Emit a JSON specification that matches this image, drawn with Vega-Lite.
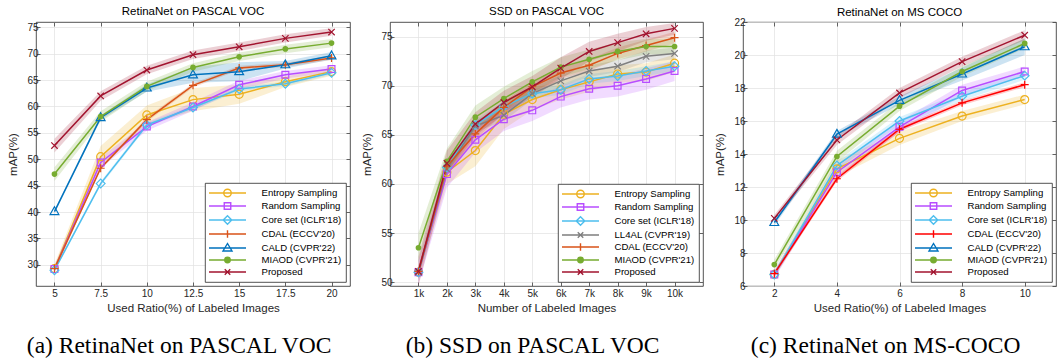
{
  "$schema": "https://vega.github.io/schema/vega-lite/v6.json",
  "padding": {"left": 7, "top": 5, "right": 0, "bottom": 0},
  "spacing": 10,
  "datasets": {
    "p1": [
      {"method": "Entropy Sampling", "x": 5, "y": 29.3, "lo": 28.5, "hi": 30.1},
      {"method": "Entropy Sampling", "x": 7.5, "y": 50.5, "lo": 48.5, "hi": 52.5},
      {"method": "Entropy Sampling", "x": 10, "y": 58.4, "lo": 56.6, "hi": 60.2},
      {"method": "Entropy Sampling", "x": 12.5, "y": 61.3, "lo": 59.1, "hi": 63.5},
      {"method": "Entropy Sampling", "x": 15, "y": 62.3, "lo": 60.5, "hi": 64.1},
      {"method": "Entropy Sampling", "x": 17.5, "y": 64.7, "lo": 63.7, "hi": 65.7},
      {"method": "Entropy Sampling", "x": 20, "y": 66.6, "lo": 65.8, "hi": 67.4},
      {"method": "Random Sampling", "x": 5, "y": 29.2, "lo": 28.6, "hi": 29.8},
      {"method": "Random Sampling", "x": 7.5, "y": 49.4, "lo": 48.4, "hi": 50.4},
      {"method": "Random Sampling", "x": 10, "y": 56.2, "lo": 55.4, "hi": 57.0},
      {"method": "Random Sampling", "x": 12.5, "y": 60.0, "lo": 59.2, "hi": 60.8},
      {"method": "Random Sampling", "x": 15, "y": 64.1, "lo": 63.3, "hi": 64.9},
      {"method": "Random Sampling", "x": 17.5, "y": 66.0, "lo": 65.3, "hi": 66.7},
      {"method": "Random Sampling", "x": 20, "y": 67.1, "lo": 66.4, "hi": 67.8},
      {"method": "Core set (ICLR'18)", "x": 5, "y": 29.0, "lo": 28.7, "hi": 29.3},
      {"method": "Core set (ICLR'18)", "x": 7.5, "y": 45.4, "lo": 45.0, "hi": 45.8},
      {"method": "Core set (ICLR'18)", "x": 10, "y": 56.5, "lo": 56.1, "hi": 56.9},
      {"method": "Core set (ICLR'18)", "x": 12.5, "y": 59.8, "lo": 59.4, "hi": 60.2},
      {"method": "Core set (ICLR'18)", "x": 15, "y": 63.3, "lo": 62.9, "hi": 63.7},
      {"method": "Core set (ICLR'18)", "x": 17.5, "y": 64.3, "lo": 63.9, "hi": 64.7},
      {"method": "Core set (ICLR'18)", "x": 20, "y": 66.4, "lo": 66.0, "hi": 66.8},
      {"method": "CDAL (ECCV'20)", "x": 5, "y": 29.3, "lo": 29.0, "hi": 29.6},
      {"method": "CDAL (ECCV'20)", "x": 7.5, "y": 48.3, "lo": 48.0, "hi": 48.6},
      {"method": "CDAL (ECCV'20)", "x": 10, "y": 57.5, "lo": 57.1, "hi": 57.9},
      {"method": "CDAL (ECCV'20)", "x": 12.5, "y": 64.0, "lo": 63.6, "hi": 64.4},
      {"method": "CDAL (ECCV'20)", "x": 15, "y": 67.3, "lo": 66.9, "hi": 67.7},
      {"method": "CDAL (ECCV'20)", "x": 17.5, "y": 67.9, "lo": 67.5, "hi": 68.3},
      {"method": "CDAL (ECCV'20)", "x": 20, "y": 69.2, "lo": 68.8, "hi": 69.6},
      {"method": "CALD (CVPR'22)", "x": 5, "y": 40.1, "lo": 39.8, "hi": 40.4},
      {"method": "CALD (CVPR'22)", "x": 7.5, "y": 57.9, "lo": 57.5, "hi": 58.3},
      {"method": "CALD (CVPR'22)", "x": 10, "y": 63.5, "lo": 62.8, "hi": 64.2},
      {"method": "CALD (CVPR'22)", "x": 12.5, "y": 66.0, "lo": 64.5, "hi": 67.5},
      {"method": "CALD (CVPR'22)", "x": 15, "y": 66.6, "lo": 64.8, "hi": 68.4},
      {"method": "CALD (CVPR'22)", "x": 17.5, "y": 67.9, "lo": 67.2, "hi": 68.6},
      {"method": "CALD (CVPR'22)", "x": 20, "y": 69.6, "lo": 68.9, "hi": 70.3},
      {"method": "MIAOD (CVPR'21)", "x": 5, "y": 47.2, "lo": 45.9, "hi": 48.5},
      {"method": "MIAOD (CVPR'21)", "x": 7.5, "y": 58.1, "lo": 57.1, "hi": 59.1},
      {"method": "MIAOD (CVPR'21)", "x": 10, "y": 63.8, "lo": 62.9, "hi": 64.7},
      {"method": "MIAOD (CVPR'21)", "x": 12.5, "y": 67.4, "lo": 66.6, "hi": 68.2},
      {"method": "MIAOD (CVPR'21)", "x": 15, "y": 69.4, "lo": 68.6, "hi": 70.2},
      {"method": "MIAOD (CVPR'21)", "x": 17.5, "y": 70.9, "lo": 70.1, "hi": 71.7},
      {"method": "MIAOD (CVPR'21)", "x": 20, "y": 72.0, "lo": 71.2, "hi": 72.8},
      {"method": "Proposed", "x": 5, "y": 52.6, "lo": 51.3, "hi": 53.9},
      {"method": "Proposed", "x": 7.5, "y": 62.0, "lo": 61.1, "hi": 62.9},
      {"method": "Proposed", "x": 10, "y": 66.9, "lo": 66.1, "hi": 67.7},
      {"method": "Proposed", "x": 12.5, "y": 69.8, "lo": 69.0, "hi": 70.6},
      {"method": "Proposed", "x": 15, "y": 71.3, "lo": 70.5, "hi": 72.1},
      {"method": "Proposed", "x": 17.5, "y": 72.9, "lo": 72.1, "hi": 73.7},
      {"method": "Proposed", "x": 20, "y": 74.1, "lo": 73.4, "hi": 74.8}
    ],
    "p2": [
      {"method": "Entropy Sampling", "x": 1, "y": 51.0, "lo": 50.3, "hi": 51.7},
      {"method": "Entropy Sampling", "x": 2, "y": 61.2, "lo": 60.0, "hi": 62.4},
      {"method": "Entropy Sampling", "x": 3, "y": 63.4, "lo": 61.8, "hi": 65.0},
      {"method": "Entropy Sampling", "x": 4, "y": 67.1, "lo": 65.6, "hi": 68.6},
      {"method": "Entropy Sampling", "x": 5, "y": 68.6, "lo": 67.5, "hi": 69.7},
      {"method": "Entropy Sampling", "x": 6, "y": 69.6, "lo": 68.6, "hi": 70.6},
      {"method": "Entropy Sampling", "x": 7, "y": 70.4, "lo": 69.4, "hi": 71.4},
      {"method": "Entropy Sampling", "x": 8, "y": 71.2, "lo": 70.3, "hi": 72.1},
      {"method": "Entropy Sampling", "x": 9, "y": 71.4, "lo": 70.5, "hi": 72.3},
      {"method": "Entropy Sampling", "x": 10, "y": 72.3, "lo": 71.4, "hi": 73.2},
      {"method": "Random Sampling", "x": 1, "y": 51.0, "lo": 49.8, "hi": 52.2},
      {"method": "Random Sampling", "x": 2, "y": 61.0, "lo": 59.6, "hi": 62.4},
      {"method": "Random Sampling", "x": 3, "y": 64.5, "lo": 63.2, "hi": 65.8},
      {"method": "Random Sampling", "x": 4, "y": 66.6, "lo": 65.4, "hi": 67.8},
      {"method": "Random Sampling", "x": 5, "y": 67.5, "lo": 66.4, "hi": 68.6},
      {"method": "Random Sampling", "x": 6, "y": 68.9, "lo": 67.8, "hi": 70.0},
      {"method": "Random Sampling", "x": 7, "y": 69.7, "lo": 68.6, "hi": 70.8},
      {"method": "Random Sampling", "x": 8, "y": 70.0, "lo": 68.9, "hi": 71.1},
      {"method": "Random Sampling", "x": 9, "y": 70.7, "lo": 69.6, "hi": 71.8},
      {"method": "Random Sampling", "x": 10, "y": 71.5, "lo": 70.5, "hi": 72.5},
      {"method": "Core set (ICLR'18)", "x": 1, "y": 51.0, "lo": 50.7, "hi": 51.3},
      {"method": "Core set (ICLR'18)", "x": 2, "y": 61.7, "lo": 61.2, "hi": 62.2},
      {"method": "Core set (ICLR'18)", "x": 3, "y": 66.0, "lo": 65.5, "hi": 66.5},
      {"method": "Core set (ICLR'18)", "x": 4, "y": 67.9, "lo": 67.4, "hi": 68.4},
      {"method": "Core set (ICLR'18)", "x": 5, "y": 69.2, "lo": 68.7, "hi": 69.7},
      {"method": "Core set (ICLR'18)", "x": 6, "y": 69.6, "lo": 69.1, "hi": 70.1},
      {"method": "Core set (ICLR'18)", "x": 7, "y": 70.7, "lo": 70.2, "hi": 71.2},
      {"method": "Core set (ICLR'18)", "x": 8, "y": 71.0, "lo": 70.5, "hi": 71.5},
      {"method": "Core set (ICLR'18)", "x": 9, "y": 71.5, "lo": 71.0, "hi": 72.0},
      {"method": "Core set (ICLR'18)", "x": 10, "y": 72.0, "lo": 71.5, "hi": 72.5},
      {"method": "LL4AL (CVPR'19)", "x": 1, "y": 51.0, "lo": 50.6, "hi": 51.4},
      {"method": "LL4AL (CVPR'19)", "x": 2, "y": 61.5, "lo": 61.0, "hi": 62.0},
      {"method": "LL4AL (CVPR'19)", "x": 3, "y": 65.9, "lo": 65.3, "hi": 66.5},
      {"method": "LL4AL (CVPR'19)", "x": 4, "y": 67.0, "lo": 66.4, "hi": 67.6},
      {"method": "LL4AL (CVPR'19)", "x": 5, "y": 69.2, "lo": 68.6, "hi": 69.8},
      {"method": "LL4AL (CVPR'19)", "x": 6, "y": 70.5, "lo": 69.9, "hi": 71.1},
      {"method": "LL4AL (CVPR'19)", "x": 7, "y": 71.5, "lo": 70.9, "hi": 72.1},
      {"method": "LL4AL (CVPR'19)", "x": 8, "y": 72.0, "lo": 71.4, "hi": 72.6},
      {"method": "LL4AL (CVPR'19)", "x": 9, "y": 73.0, "lo": 72.4, "hi": 73.6},
      {"method": "LL4AL (CVPR'19)", "x": 10, "y": 73.3, "lo": 72.7, "hi": 73.9},
      {"method": "CDAL (ECCV'20)", "x": 1, "y": 51.1, "lo": 50.6, "hi": 51.6},
      {"method": "CDAL (ECCV'20)", "x": 2, "y": 61.8, "lo": 61.2, "hi": 62.4},
      {"method": "CDAL (ECCV'20)", "x": 3, "y": 65.1, "lo": 64.5, "hi": 65.7},
      {"method": "CDAL (ECCV'20)", "x": 4, "y": 67.8, "lo": 67.2, "hi": 68.4},
      {"method": "CDAL (ECCV'20)", "x": 5, "y": 69.9, "lo": 69.3, "hi": 70.5},
      {"method": "CDAL (ECCV'20)", "x": 6, "y": 71.3, "lo": 70.7, "hi": 71.9},
      {"method": "CDAL (ECCV'20)", "x": 7, "y": 72.1, "lo": 71.5, "hi": 72.7},
      {"method": "CDAL (ECCV'20)", "x": 8, "y": 73.3, "lo": 72.7, "hi": 73.9},
      {"method": "CDAL (ECCV'20)", "x": 9, "y": 74.1, "lo": 73.5, "hi": 74.7},
      {"method": "CDAL (ECCV'20)", "x": 10, "y": 74.9, "lo": 74.3, "hi": 75.5},
      {"method": "MIAOD (CVPR'21)", "x": 1, "y": 53.5, "lo": 52.0, "hi": 55.0},
      {"method": "MIAOD (CVPR'21)", "x": 2, "y": 62.3, "lo": 61.0, "hi": 63.6},
      {"method": "MIAOD (CVPR'21)", "x": 3, "y": 66.8, "lo": 65.6, "hi": 68.0},
      {"method": "MIAOD (CVPR'21)", "x": 4, "y": 68.7, "lo": 67.5, "hi": 69.9},
      {"method": "MIAOD (CVPR'21)", "x": 5, "y": 70.4, "lo": 69.3, "hi": 71.5},
      {"method": "MIAOD (CVPR'21)", "x": 6, "y": 71.9, "lo": 70.9, "hi": 72.9},
      {"method": "MIAOD (CVPR'21)", "x": 7, "y": 72.7, "lo": 71.7, "hi": 73.7},
      {"method": "MIAOD (CVPR'21)", "x": 8, "y": 73.5, "lo": 72.6, "hi": 74.4},
      {"method": "MIAOD (CVPR'21)", "x": 9, "y": 74.0, "lo": 73.2, "hi": 74.8},
      {"method": "MIAOD (CVPR'21)", "x": 10, "y": 74.0, "lo": 73.2, "hi": 74.8},
      {"method": "Proposed", "x": 1, "y": 51.1, "lo": 49.6, "hi": 52.6},
      {"method": "Proposed", "x": 2, "y": 62.1, "lo": 60.8, "hi": 63.4},
      {"method": "Proposed", "x": 3, "y": 66.1, "lo": 64.9, "hi": 67.3},
      {"method": "Proposed", "x": 4, "y": 68.3, "lo": 67.1, "hi": 69.5},
      {"method": "Proposed", "x": 5, "y": 69.9, "lo": 68.8, "hi": 71.0},
      {"method": "Proposed", "x": 6, "y": 71.8, "lo": 70.7, "hi": 72.9},
      {"method": "Proposed", "x": 7, "y": 73.5, "lo": 72.5, "hi": 74.5},
      {"method": "Proposed", "x": 8, "y": 74.4, "lo": 73.5, "hi": 75.3},
      {"method": "Proposed", "x": 9, "y": 75.3, "lo": 74.6, "hi": 76.0},
      {"method": "Proposed", "x": 10, "y": 75.85, "lo": 75.2, "hi": 76.4}
    ],
    "p3": [
      {"method": "Entropy Sampling", "x": 2, "y": 6.7, "lo": 6.5, "hi": 6.9},
      {"method": "Entropy Sampling", "x": 4, "y": 13.1, "lo": 12.6, "hi": 13.6},
      {"method": "Entropy Sampling", "x": 6, "y": 14.95, "lo": 14.55, "hi": 15.35},
      {"method": "Entropy Sampling", "x": 8, "y": 16.3, "lo": 16.0, "hi": 16.6},
      {"method": "Entropy Sampling", "x": 10, "y": 17.3, "lo": 17.0, "hi": 17.6},
      {"method": "Random Sampling", "x": 2, "y": 6.7, "lo": 6.45, "hi": 6.95},
      {"method": "Random Sampling", "x": 4, "y": 12.9, "lo": 12.6, "hi": 13.2},
      {"method": "Random Sampling", "x": 6, "y": 15.65, "lo": 15.3, "hi": 16.0},
      {"method": "Random Sampling", "x": 8, "y": 17.85, "lo": 17.5, "hi": 18.2},
      {"method": "Random Sampling", "x": 10, "y": 19.0, "lo": 18.7, "hi": 19.3},
      {"method": "Core set (ICLR'18)", "x": 2, "y": 6.7, "lo": 6.5, "hi": 6.9},
      {"method": "Core set (ICLR'18)", "x": 4, "y": 13.3, "lo": 13.05, "hi": 13.55},
      {"method": "Core set (ICLR'18)", "x": 6, "y": 16.0, "lo": 15.75, "hi": 16.25},
      {"method": "Core set (ICLR'18)", "x": 8, "y": 17.5, "lo": 17.25, "hi": 17.75},
      {"method": "Core set (ICLR'18)", "x": 10, "y": 18.75, "lo": 18.5, "hi": 19.0},
      {"method": "CDAL (ECCV'20)", "x": 2, "y": 6.75, "lo": 6.6, "hi": 6.9},
      {"method": "CDAL (ECCV'20)", "x": 4, "y": 12.5, "lo": 12.35, "hi": 12.65},
      {"method": "CDAL (ECCV'20)", "x": 6, "y": 15.5, "lo": 15.35, "hi": 15.65},
      {"method": "CDAL (ECCV'20)", "x": 8, "y": 17.1, "lo": 16.95, "hi": 17.25},
      {"method": "CDAL (ECCV'20)", "x": 10, "y": 18.2, "lo": 18.05, "hi": 18.35},
      {"method": "CALD (CVPR'22)", "x": 2, "y": 9.85, "lo": 9.65, "hi": 10.05},
      {"method": "CALD (CVPR'22)", "x": 4, "y": 15.2, "lo": 15.0, "hi": 15.4},
      {"method": "CALD (CVPR'22)", "x": 6, "y": 17.25, "lo": 17.0, "hi": 17.5},
      {"method": "CALD (CVPR'22)", "x": 8, "y": 18.85, "lo": 18.45, "hi": 19.25},
      {"method": "CALD (CVPR'22)", "x": 10, "y": 20.5, "lo": 20.0, "hi": 21.0},
      {"method": "MIAOD (CVPR'21)", "x": 2, "y": 7.3, "lo": 7.0, "hi": 7.6},
      {"method": "MIAOD (CVPR'21)", "x": 4, "y": 13.85, "lo": 13.5, "hi": 14.2},
      {"method": "MIAOD (CVPR'21)", "x": 6, "y": 16.9, "lo": 16.6, "hi": 17.2},
      {"method": "MIAOD (CVPR'21)", "x": 8, "y": 19.0, "lo": 18.7, "hi": 19.3},
      {"method": "MIAOD (CVPR'21)", "x": 10, "y": 20.7, "lo": 20.4, "hi": 21.0},
      {"method": "Proposed", "x": 2, "y": 10.1, "lo": 9.9, "hi": 10.3},
      {"method": "Proposed", "x": 4, "y": 14.85, "lo": 14.55, "hi": 15.15},
      {"method": "Proposed", "x": 6, "y": 17.7, "lo": 17.4, "hi": 18.0},
      {"method": "Proposed", "x": 8, "y": 19.6, "lo": 19.3, "hi": 19.9},
      {"method": "Proposed", "x": 10, "y": 21.2, "lo": 20.9, "hi": 21.5}
    ]
  },
  "hconcat": [
    {
      "title": {"text": "(a) RetinaNet on PASCAL VOC", "orient": "bottom", "anchor": "middle", "font": "Liberation Serif", "fontSize": 23.5, "fontWeight": "normal", "color": "#000000", "offset": 20},
      "resolve": {"scale": {"color": "independent", "shape": "independent", "fill": "independent", "stroke": "independent"}, "legend": {"color": "independent", "shape": "independent"}},
      "vconcat": [
        {
          "width": 314, "height": 264,
          "title": {"text": "RetinaNet on PASCAL VOC", "frame": "group"},
          "data": {"name": "p1"},
          "resolve": {"axis": {"x": "independent", "y": "independent"}},
          "layer": [
            {"mark": {"type": "area", "opacity": 0.2},
             "encoding": {
               "x": {"field": "x", "type": "quantitative", "scale": {"domain": [4, 21], "nice": false, "zero": false}, "axis": {"values": [5, 7.5, 10, 12.5, 15, 17.5, 20], "labelExpr": "'' + datum.value", "title": "Used Ratio(%) of Labeled Images"}},
               "y": {"field": "lo", "type": "quantitative", "stack": null, "scale": {"domain": [26, 76], "nice": false, "zero": false}, "axis": {"values": [30, 35, 40, 45, 50, 55, 60, 65, 70, 75], "title": "mAP(%)"}},
               "y2": {"field": "hi"},
               "fill": {"field": "method", "type": "nominal", "scale": {"domain": ["Proposed", "MIAOD (CVPR'21)", "CALD (CVPR'22)", "CDAL (ECCV'20)", "Core set (ICLR'18)", "Random Sampling", "Entropy Sampling"], "range": ["#A2142F", "#77AC30", "#0072BD", "#D95319", "#4DBEEE", "#B84DFF", "#EDB120"]}, "legend": null}
             }},
            {"mark": {"type": "line", "strokeWidth": 1.5},
             "encoding": {
               "x": {"field": "x", "type": "quantitative", "axis": null},
               "y": {"field": "y", "type": "quantitative", "axis": null},
               "stroke": {"field": "method", "type": "nominal", "scale": {"domain": ["Proposed", "MIAOD (CVPR'21)", "CALD (CVPR'22)", "CDAL (ECCV'20)", "Core set (ICLR'18)", "Random Sampling", "Entropy Sampling"], "range": ["#A2142F", "#77AC30", "#0072BD", "#D95319", "#4DBEEE", "#B84DFF", "#EDB120"]}, "legend": null}
             }},
            {"transform": [{"filter": "datum.x < 0"}],
             "mark": {"type": "point", "filled": false, "opacity": 1, "strokeWidth": 1.4},
             "encoding": {
               "x": {"field": "x", "type": "quantitative", "axis": null},
               "y": {"field": "y", "type": "quantitative", "axis": null},
               "color": {"field": "method", "type": "nominal", "scale": {"domain": ["Entropy Sampling", "Random Sampling", "Core set (ICLR'18)", "CDAL (ECCV'20)", "CALD (CVPR'22)", "MIAOD (CVPR'21)", "Proposed"], "range": ["#EDB120", "#B84DFF", "#4DBEEE", "#D95319", "#0072BD", "#77AC30", "#A2142F"]}, "legend": {"title": null}},
               "shape": {"field": "method", "type": "nominal", "scale": {"domain": ["Entropy Sampling", "Random Sampling", "Core set (ICLR'18)", "CDAL (ECCV'20)", "CALD (CVPR'22)", "MIAOD (CVPR'21)", "Proposed"], "range": ["M-3.7,0H3.7M-0.75,0A0.75,0.75 0 1,0 0.75,0A0.75,0.75 0 1,0 -0.75,0Z", "M-3.7,0H3.7M-0.65,-0.65H0.65V0.65H-0.65Z", "M-3.7,0H3.7M-0.85,0L0,-0.85L0.85,0L0,0.85Z", "M-3.7,0H3.7M0,-0.75V0.75", "M-3.7,0H3.7M0,-0.9L0.9,0.6H-0.9Z", "M-3.7,0H3.7M-0.55,0A0.55,0.55 0 1,0 0.55,0A0.55,0.55 0 1,0 -0.55,0ZM-0.28,0A0.28,0.28 0 1,0 0.28,0A0.28,0.28 0 1,0 -0.28,0Z", "M-3.7,0H3.7M-0.55,-0.55L0.55,0.55M-0.55,0.55L0.55,-0.55"]}, "legend": {"title": null}}
             }},
            {"transform": [{"filter": {"field": "method", "equal": "Entropy Sampling"}}], "mark": {"type": "point", "shape": "M-1,0A1,1 0 1,0 1,0A1,1 0 1,0 -1,0Z", "color": "#EDB120", "filled": false, "size": 64, "strokeWidth": 1.2, "opacity": 1}, "encoding": {"x": {"field": "x", "type": "quantitative", "axis": null}, "y": {"field": "y", "type": "quantitative", "axis": null}}},
            {"transform": [{"filter": {"field": "method", "equal": "Random Sampling"}}], "mark": {"type": "point", "shape": "M-0.85,-0.85H0.85V0.85H-0.85Z", "color": "#B84DFF", "filled": false, "size": 64, "strokeWidth": 1.2, "opacity": 1}, "encoding": {"x": {"field": "x", "type": "quantitative", "axis": null}, "y": {"field": "y", "type": "quantitative", "axis": null}}},
            {"transform": [{"filter": {"field": "method", "equal": "Core set (ICLR'18)"}}], "mark": {"type": "point", "shape": "M-1.1,0L0,-1.1L1.1,0L0,1.1Z", "color": "#4DBEEE", "filled": false, "size": 64, "strokeWidth": 1.2, "opacity": 1}, "encoding": {"x": {"field": "x", "type": "quantitative", "axis": null}, "y": {"field": "y", "type": "quantitative", "axis": null}}},
            {"transform": [{"filter": {"field": "method", "equal": "CDAL (ECCV'20)"}}], "mark": {"type": "point", "shape": "M0,-1V1M-1,0H1", "color": "#D95319", "filled": false, "size": 64, "strokeWidth": 1.2, "opacity": 1}, "encoding": {"x": {"field": "x", "type": "quantitative", "axis": null}, "y": {"field": "y", "type": "quantitative", "axis": null}}},
            {"transform": [{"filter": {"field": "method", "equal": "CALD (CVPR'22)"}}], "mark": {"type": "point", "shape": "M0,-1.2L1.1,0.75H-1.1Z", "color": "#0072BD", "filled": false, "size": 64, "strokeWidth": 1.2, "opacity": 1}, "encoding": {"x": {"field": "x", "type": "quantitative", "axis": null}, "y": {"field": "y", "type": "quantitative", "axis": null}}},
            {"transform": [{"filter": {"field": "method", "equal": "MIAOD (CVPR'21)"}}], "mark": {"type": "point", "shape": "circle", "color": "#77AC30", "filled": true, "size": 32, "opacity": 1}, "encoding": {"x": {"field": "x", "type": "quantitative", "axis": null}, "y": {"field": "y", "type": "quantitative", "axis": null}}},
            {"transform": [{"filter": {"field": "method", "equal": "Proposed"}}], "mark": {"type": "point", "shape": "M-0.8,-0.8L0.8,0.8M-0.8,0.8L0.8,-0.8", "color": "#A2142F", "filled": false, "size": 64, "strokeWidth": 1.2, "opacity": 1}, "encoding": {"x": {"field": "x", "type": "quantitative", "axis": null}, "y": {"field": "y", "type": "quantitative", "axis": null}}},
            {"mark": {"type": "point", "opacity": 0},
             "encoding": {
               "x": {"field": "x", "type": "quantitative", "axis": {"orient": "top", "values": [5, 7.5, 10, 12.5, 15, 17.5, 20], "labels": false, "grid": false, "title": null}},
               "y": {"field": "y", "type": "quantitative", "axis": {"orient": "right", "values": [30, 35, 40, 45, 50, 55, 60, 65, 70, 75], "labels": false, "grid": false, "title": null}}
             }}
          ]
        }
      ]
    },
    {
      "title": {"text": "(b) SSD on PASCAL VOC", "orient": "bottom", "anchor": "middle", "font": "Liberation Serif", "fontSize": 23.5, "fontWeight": "normal", "color": "#000000", "offset": 20},
      "resolve": {"scale": {"color": "independent", "shape": "independent", "fill": "independent", "stroke": "independent"}, "legend": {"color": "independent", "shape": "independent"}},
      "vconcat": [
        {
          "width": 313, "height": 264,
          "title": {"text": "SSD on PASCAL VOC", "frame": "group"},
          "data": {"name": "p2"},
          "resolve": {"axis": {"x": "independent", "y": "independent"}},
          "layer": [
            {"mark": {"type": "area", "opacity": 0.2},
             "encoding": {
               "x": {"field": "x", "type": "quantitative", "scale": {"domain": [0, 11], "nice": false, "zero": false}, "axis": {"values": [1, 2, 3, 4, 5, 6, 7, 8, 9, 10], "labelExpr": "datum.value + 'k'", "title": "Number of Labeled Images"}},
               "y": {"field": "lo", "type": "quantitative", "stack": null, "scale": {"domain": [49.6, 76.5], "nice": false, "zero": false}, "axis": {"values": [50, 55, 60, 65, 70, 75], "title": "mAP(%)"}},
               "y2": {"field": "hi"},
               "fill": {"field": "method", "type": "nominal", "scale": {"domain": ["Proposed", "MIAOD (CVPR'21)", "CDAL (ECCV'20)", "LL4AL (CVPR'19)", "Core set (ICLR'18)", "Random Sampling", "Entropy Sampling"], "range": ["#A2142F", "#77AC30", "#D95319", "#7F7F7F", "#4DBEEE", "#B84DFF", "#EDB120"]}, "legend": null}
             }},
            {"mark": {"type": "line", "strokeWidth": 1.5},
             "encoding": {
               "x": {"field": "x", "type": "quantitative", "axis": null},
               "y": {"field": "y", "type": "quantitative", "axis": null},
               "stroke": {"field": "method", "type": "nominal", "scale": {"domain": ["Proposed", "MIAOD (CVPR'21)", "CDAL (ECCV'20)", "LL4AL (CVPR'19)", "Core set (ICLR'18)", "Random Sampling", "Entropy Sampling"], "range": ["#A2142F", "#77AC30", "#D95319", "#7F7F7F", "#4DBEEE", "#B84DFF", "#EDB120"]}, "legend": null}
             }},
            {"transform": [{"filter": "datum.x < 0"}],
             "mark": {"type": "point", "filled": false, "opacity": 1, "strokeWidth": 1.4},
             "encoding": {
               "x": {"field": "x", "type": "quantitative", "axis": null},
               "y": {"field": "y", "type": "quantitative", "axis": null},
               "color": {"field": "method", "type": "nominal", "scale": {"domain": ["Entropy Sampling", "Random Sampling", "Core set (ICLR'18)", "LL4AL (CVPR'19)", "CDAL (ECCV'20)", "MIAOD (CVPR'21)", "Proposed"], "range": ["#EDB120", "#B84DFF", "#4DBEEE", "#7F7F7F", "#D95319", "#77AC30", "#A2142F"]}, "legend": {"title": null}},
               "shape": {"field": "method", "type": "nominal", "scale": {"domain": ["Entropy Sampling", "Random Sampling", "Core set (ICLR'18)", "LL4AL (CVPR'19)", "CDAL (ECCV'20)", "MIAOD (CVPR'21)", "Proposed"], "range": ["M-3.7,0H3.7M-0.75,0A0.75,0.75 0 1,0 0.75,0A0.75,0.75 0 1,0 -0.75,0Z", "M-3.7,0H3.7M-0.65,-0.65H0.65V0.65H-0.65Z", "M-3.7,0H3.7M-0.85,0L0,-0.85L0.85,0L0,0.85Z", "M-3.7,0H3.7M-0.55,-0.55L0.55,0.55M-0.55,0.55L0.55,-0.55", "M-3.7,0H3.7M0,-0.75V0.75", "M-3.7,0H3.7M-0.55,0A0.55,0.55 0 1,0 0.55,0A0.55,0.55 0 1,0 -0.55,0ZM-0.28,0A0.28,0.28 0 1,0 0.28,0A0.28,0.28 0 1,0 -0.28,0Z", "M-3.7,0H3.7M-0.55,-0.55L0.55,0.55M-0.55,0.55L0.55,-0.55"]}, "legend": {"title": null}}
             }},
            {"transform": [{"filter": {"field": "method", "equal": "Entropy Sampling"}}], "mark": {"type": "point", "shape": "M-1,0A1,1 0 1,0 1,0A1,1 0 1,0 -1,0Z", "color": "#EDB120", "filled": false, "size": 64, "strokeWidth": 1.2, "opacity": 1}, "encoding": {"x": {"field": "x", "type": "quantitative", "axis": null}, "y": {"field": "y", "type": "quantitative", "axis": null}}},
            {"transform": [{"filter": {"field": "method", "equal": "Random Sampling"}}], "mark": {"type": "point", "shape": "M-0.85,-0.85H0.85V0.85H-0.85Z", "color": "#B84DFF", "filled": false, "size": 64, "strokeWidth": 1.2, "opacity": 1}, "encoding": {"x": {"field": "x", "type": "quantitative", "axis": null}, "y": {"field": "y", "type": "quantitative", "axis": null}}},
            {"transform": [{"filter": {"field": "method", "equal": "Core set (ICLR'18)"}}], "mark": {"type": "point", "shape": "M-1.1,0L0,-1.1L1.1,0L0,1.1Z", "color": "#4DBEEE", "filled": false, "size": 64, "strokeWidth": 1.2, "opacity": 1}, "encoding": {"x": {"field": "x", "type": "quantitative", "axis": null}, "y": {"field": "y", "type": "quantitative", "axis": null}}},
            {"transform": [{"filter": {"field": "method", "equal": "LL4AL (CVPR'19)"}}], "mark": {"type": "point", "shape": "M-0.8,-0.8L0.8,0.8M-0.8,0.8L0.8,-0.8", "color": "#7F7F7F", "filled": false, "size": 64, "strokeWidth": 1.2, "opacity": 1}, "encoding": {"x": {"field": "x", "type": "quantitative", "axis": null}, "y": {"field": "y", "type": "quantitative", "axis": null}}},
            {"transform": [{"filter": {"field": "method", "equal": "CDAL (ECCV'20)"}}], "mark": {"type": "point", "shape": "M0,-1V1M-1,0H1", "color": "#D95319", "filled": false, "size": 64, "strokeWidth": 1.2, "opacity": 1}, "encoding": {"x": {"field": "x", "type": "quantitative", "axis": null}, "y": {"field": "y", "type": "quantitative", "axis": null}}},
            {"transform": [{"filter": {"field": "method", "equal": "MIAOD (CVPR'21)"}}], "mark": {"type": "point", "shape": "circle", "color": "#77AC30", "filled": true, "size": 32, "opacity": 1}, "encoding": {"x": {"field": "x", "type": "quantitative", "axis": null}, "y": {"field": "y", "type": "quantitative", "axis": null}}},
            {"transform": [{"filter": {"field": "method", "equal": "Proposed"}}], "mark": {"type": "point", "shape": "M-0.8,-0.8L0.8,0.8M-0.8,0.8L0.8,-0.8", "color": "#A2142F", "filled": false, "size": 64, "strokeWidth": 1.2, "opacity": 1}, "encoding": {"x": {"field": "x", "type": "quantitative", "axis": null}, "y": {"field": "y", "type": "quantitative", "axis": null}}},
            {"mark": {"type": "point", "opacity": 0},
             "encoding": {
               "x": {"field": "x", "type": "quantitative", "axis": {"orient": "top", "values": [1, 2, 3, 4, 5, 6, 7, 8, 9, 10], "labels": false, "grid": false, "title": null}},
               "y": {"field": "y", "type": "quantitative", "axis": {"orient": "right", "values": [50, 55, 60, 65, 70, 75], "labels": false, "grid": false, "title": null}}
             }}
          ]
        }
      ]
    },
    {
      "title": {"text": "(c) RetinaNet on MS-COCO", "orient": "bottom", "anchor": "middle", "font": "Liberation Serif", "fontSize": 23.5, "fontWeight": "normal", "color": "#000000", "offset": 20},
      "resolve": {"scale": {"color": "independent", "shape": "independent", "fill": "independent", "stroke": "independent"}, "legend": {"color": "independent", "shape": "independent"}},
      "vconcat": [
        {
          "width": 313, "height": 264,
          "title": {"text": "RetinaNet on MS COCO", "frame": "group", "offset": -1},
          "data": {"name": "p3"},
          "resolve": {"axis": {"x": "independent", "y": "independent"}},
          "layer": [
            {"mark": {"type": "area", "opacity": 0.2},
             "encoding": {
               "x": {"field": "x", "type": "quantitative", "scale": {"domain": [1, 11], "nice": false, "zero": false}, "axis": {"values": [2, 4, 6, 8, 10], "title": "Used Ratio(%) of Labeled Images"}},
               "y": {"field": "lo", "type": "quantitative", "stack": null, "scale": {"domain": [6, 22], "nice": false, "zero": false}, "axis": {"values": [6, 8, 10, 12, 14, 16, 18, 20, 22], "title": "mAP(%)"}},
               "y2": {"field": "hi"},
               "fill": {"field": "method", "type": "nominal", "scale": {"domain": ["Proposed", "MIAOD (CVPR'21)", "CALD (CVPR'22)", "CDAL (ECCV'20)", "Core set (ICLR'18)", "Random Sampling", "Entropy Sampling"], "range": ["#A2142F", "#77AC30", "#0072BD", "#FF0000", "#4DBEEE", "#B84DFF", "#EDB120"]}, "legend": null}
             }},
            {"mark": {"type": "line", "strokeWidth": 1.5},
             "encoding": {
               "x": {"field": "x", "type": "quantitative", "axis": null},
               "y": {"field": "y", "type": "quantitative", "axis": null},
               "stroke": {"field": "method", "type": "nominal", "scale": {"domain": ["Proposed", "MIAOD (CVPR'21)", "CALD (CVPR'22)", "CDAL (ECCV'20)", "Core set (ICLR'18)", "Random Sampling", "Entropy Sampling"], "range": ["#A2142F", "#77AC30", "#0072BD", "#FF0000", "#4DBEEE", "#B84DFF", "#EDB120"]}, "legend": null}
             }},
            {"transform": [{"filter": "datum.x < 0"}],
             "mark": {"type": "point", "filled": false, "opacity": 1, "strokeWidth": 1.4},
             "encoding": {
               "x": {"field": "x", "type": "quantitative", "axis": null},
               "y": {"field": "y", "type": "quantitative", "axis": null},
               "color": {"field": "method", "type": "nominal", "scale": {"domain": ["Entropy Sampling", "Random Sampling", "Core set (ICLR'18)", "CDAL (ECCV'20)", "CALD (CVPR'22)", "MIAOD (CVPR'21)", "Proposed"], "range": ["#EDB120", "#B84DFF", "#4DBEEE", "#FF0000", "#0072BD", "#77AC30", "#A2142F"]}, "legend": {"title": null}},
               "shape": {"field": "method", "type": "nominal", "scale": {"domain": ["Entropy Sampling", "Random Sampling", "Core set (ICLR'18)", "CDAL (ECCV'20)", "CALD (CVPR'22)", "MIAOD (CVPR'21)", "Proposed"], "range": ["M-3.7,0H3.7M-0.75,0A0.75,0.75 0 1,0 0.75,0A0.75,0.75 0 1,0 -0.75,0Z", "M-3.7,0H3.7M-0.65,-0.65H0.65V0.65H-0.65Z", "M-3.7,0H3.7M-0.85,0L0,-0.85L0.85,0L0,0.85Z", "M-3.7,0H3.7M0,-0.75V0.75", "M-3.7,0H3.7M0,-0.9L0.9,0.6H-0.9Z", "M-3.7,0H3.7M-0.55,0A0.55,0.55 0 1,0 0.55,0A0.55,0.55 0 1,0 -0.55,0ZM-0.28,0A0.28,0.28 0 1,0 0.28,0A0.28,0.28 0 1,0 -0.28,0Z", "M-3.7,0H3.7M-0.55,-0.55L0.55,0.55M-0.55,0.55L0.55,-0.55"]}, "legend": {"title": null}}
             }},
            {"transform": [{"filter": {"field": "method", "equal": "Entropy Sampling"}}], "mark": {"type": "point", "shape": "M-1,0A1,1 0 1,0 1,0A1,1 0 1,0 -1,0Z", "color": "#EDB120", "filled": false, "size": 64, "strokeWidth": 1.2, "opacity": 1}, "encoding": {"x": {"field": "x", "type": "quantitative", "axis": null}, "y": {"field": "y", "type": "quantitative", "axis": null}}},
            {"transform": [{"filter": {"field": "method", "equal": "Random Sampling"}}], "mark": {"type": "point", "shape": "M-0.85,-0.85H0.85V0.85H-0.85Z", "color": "#B84DFF", "filled": false, "size": 64, "strokeWidth": 1.2, "opacity": 1}, "encoding": {"x": {"field": "x", "type": "quantitative", "axis": null}, "y": {"field": "y", "type": "quantitative", "axis": null}}},
            {"transform": [{"filter": {"field": "method", "equal": "Core set (ICLR'18)"}}], "mark": {"type": "point", "shape": "M-1.1,0L0,-1.1L1.1,0L0,1.1Z", "color": "#4DBEEE", "filled": false, "size": 64, "strokeWidth": 1.2, "opacity": 1}, "encoding": {"x": {"field": "x", "type": "quantitative", "axis": null}, "y": {"field": "y", "type": "quantitative", "axis": null}}},
            {"transform": [{"filter": {"field": "method", "equal": "CDAL (ECCV'20)"}}], "mark": {"type": "point", "shape": "M0,-1V1M-1,0H1", "color": "#FF0000", "filled": false, "size": 64, "strokeWidth": 1.2, "opacity": 1}, "encoding": {"x": {"field": "x", "type": "quantitative", "axis": null}, "y": {"field": "y", "type": "quantitative", "axis": null}}},
            {"transform": [{"filter": {"field": "method", "equal": "CALD (CVPR'22)"}}], "mark": {"type": "point", "shape": "M0,-1.2L1.1,0.75H-1.1Z", "color": "#0072BD", "filled": false, "size": 64, "strokeWidth": 1.2, "opacity": 1}, "encoding": {"x": {"field": "x", "type": "quantitative", "axis": null}, "y": {"field": "y", "type": "quantitative", "axis": null}}},
            {"transform": [{"filter": {"field": "method", "equal": "MIAOD (CVPR'21)"}}], "mark": {"type": "point", "shape": "circle", "color": "#77AC30", "filled": true, "size": 32, "opacity": 1}, "encoding": {"x": {"field": "x", "type": "quantitative", "axis": null}, "y": {"field": "y", "type": "quantitative", "axis": null}}},
            {"transform": [{"filter": {"field": "method", "equal": "Proposed"}}], "mark": {"type": "point", "shape": "M-0.8,-0.8L0.8,0.8M-0.8,0.8L0.8,-0.8", "color": "#A2142F", "filled": false, "size": 64, "strokeWidth": 1.2, "opacity": 1}, "encoding": {"x": {"field": "x", "type": "quantitative", "axis": null}, "y": {"field": "y", "type": "quantitative", "axis": null}}},
            {"mark": {"type": "point", "opacity": 0},
             "encoding": {
               "x": {"field": "x", "type": "quantitative", "axis": {"orient": "top", "values": [2, 4, 6, 8, 10], "labels": false, "grid": false, "title": null}},
               "y": {"field": "y", "type": "quantitative", "axis": {"orient": "right", "values": [6, 8, 10, 12, 14, 16, 18, 20, 22], "labels": false, "grid": false, "title": null}}
             }}
          ]
        }
      ]
    }
  ],
  "resolve": {"scale": {"color": "independent", "shape": "independent", "fill": "independent", "stroke": "independent"}, "legend": {"color": "independent", "shape": "independent"}},
  "config": {
    "font": "Liberation Sans",
    "view": {"stroke": "#262626", "strokeWidth": 0.8},
    "axis": {"grid": true, "gridColor": "#e1e1e1", "gridWidth": 0.7, "domain": false, "tickSize": -4, "tickColor": "#262626", "tickWidth": 0.7, "labelFontSize": 10, "labelColor": "#262626", "labelFont": "Liberation Sans", "titleFont": "Liberation Sans", "titleFontSize": 11.5, "titleFontWeight": "normal", "titleColor": "#262626"},
    "axisX": {"labelPadding": 6, "titlePadding": 4},
    "axisY": {"labelPadding": 2, "titlePadding": 8},
    "title": {"font": "Liberation Sans", "fontSize": 11.5, "fontWeight": "normal", "color": "#000000", "offset": 4},
    "legend": {"orient": "bottom-right", "offset": 4, "fillColor": "white", "strokeColor": "#262626", "strokeWidth": 0.8, "padding": 4, "symbolSize": 100, "symbolStrokeWidth": 1.4, "symbolOffset": 12.5, "labelFontSize": 9.6, "labelColor": "#000000", "labelFont": "Liberation Sans", "rowPadding": -1, "labelOffset": 28}
  }
}
